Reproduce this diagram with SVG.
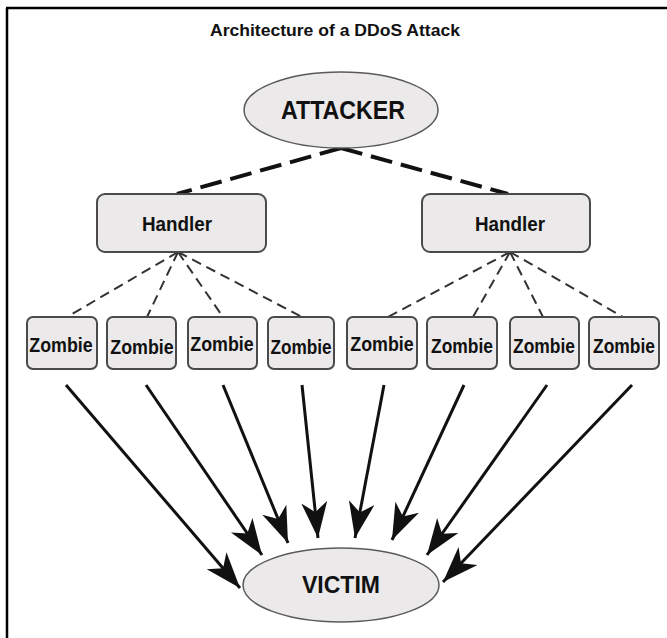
<svg xmlns="http://www.w3.org/2000/svg" width="667" height="638" viewBox="0 0 667 638">
<style>
.txt{font-family:"Liberation Sans Narrow","Liberation Sans",Arial,sans-serif;font-weight:bold;fill:#111;text-anchor:middle}
.zt{font-size:21px}
.box{fill:#ebe9e9;stroke:#4a4a4a;stroke-width:2}
.oval{fill:#ebe9e9;stroke:#5a5a5a;stroke-width:1.5}
.thick{stroke:#111;stroke-width:4;stroke-dasharray:22 9;fill:none}
.thin{stroke:#333;stroke-width:2;stroke-dasharray:10 6;fill:none}
.arr{stroke:#111;stroke-width:3;fill:none;marker-end:url(#ah)}
</style>
<defs>
<marker id="ah" markerUnits="userSpaceOnUse" markerWidth="40" markerHeight="28" refX="36" refY="13" orient="auto" viewBox="0 0 40 28">
<path d="M36,13 L0,0 L10,13 L0,26 Z" fill="#111"/>
</marker>
</defs>
<rect width="667" height="638" fill="#fff"/>
<g id="frame" stroke="#000" stroke-width="2.5">
<line x1="6" y1="8" x2="667" y2="8"/>
<line x1="7" y1="8" x2="7" y2="638"/>
</g>
<text class="txt" x="335" y="36" font-size="17" textLength="250" lengthAdjust="spacingAndGlyphs">Architecture of a DDoS Attack</text>
<g id="connectors">
<line class="thick" x1="341" y1="148" x2="177" y2="194"/>
<line class="thick" x1="341" y1="148" x2="508" y2="194"/>
<line class="thin" x1="178" y1="252" x2="67" y2="317"/>
<line class="thin" x1="178" y1="252" x2="147" y2="317"/>
<line class="thin" x1="178" y1="252" x2="223" y2="317"/>
<line class="thin" x1="178" y1="252" x2="302" y2="317"/>
<line class="thin" x1="510" y1="252" x2="388" y2="317"/>
<line class="thin" x1="510" y1="252" x2="473" y2="317"/>
<line class="thin" x1="510" y1="252" x2="543" y2="317"/>
<line class="thin" x1="510" y1="252" x2="623" y2="317"/>
<line class="arr" x1="66" y1="385" x2="240" y2="588"/>
<line class="arr" x1="146" y1="385" x2="262" y2="555"/>
<line class="arr" x1="223" y1="385" x2="288" y2="543"/>
<line class="arr" x1="302" y1="385" x2="318" y2="538"/>
<line class="arr" x1="384" y1="385" x2="355" y2="538"/>
<line class="arr" x1="464" y1="385" x2="392" y2="540"/>
<line class="arr" x1="547" y1="385" x2="427" y2="555"/>
<line class="arr" x1="632" y1="385" x2="443" y2="582"/>
</g>
<g id="attacker">
<ellipse class="oval" cx="341" cy="110" rx="97" ry="38"/>
<text class="txt" x="343" y="119" font-size="26" textLength="124" lengthAdjust="spacingAndGlyphs">ATTACKER</text>
</g>
<g id="handler1">
<rect class="box" x="97" y="194" width="169" height="58" rx="8"/>
<text class="txt" x="177" y="231" font-size="21" textLength="70" lengthAdjust="spacingAndGlyphs">Handler</text>
</g>
<g id="handler2">
<rect class="box" x="422" y="194" width="168" height="58" rx="8"/>
<text class="txt" x="510" y="231" font-size="21" textLength="70" lengthAdjust="spacingAndGlyphs">Handler</text>
</g>
<g id="zombie1"><rect class="box" x="27" y="317" width="70" height="52" rx="6"/><text class="txt zt" transform="translate(61 352) scale(0.85 1)">Zombie</text></g>
<g id="zombie2"><rect class="box" x="107" y="317" width="69" height="52" rx="6"/><text class="txt zt" transform="translate(142 354) scale(0.85 1)">Zombie</text></g>
<g id="zombie3"><rect class="box" x="188" y="317" width="69" height="52" rx="6"/><text class="txt zt" transform="translate(222 351) scale(0.85 1)">Zombie</text></g>
<g id="zombie4"><rect class="box" x="268" y="317" width="66" height="52" rx="6"/><text class="txt zt" transform="translate(301 354) scale(0.82 1)">Zombie</text></g>
<g id="zombie5"><rect class="box" x="347" y="317" width="70" height="52" rx="6"/><text class="txt zt" transform="translate(382 351) scale(0.85 1)">Zombie</text></g>
<g id="zombie6"><rect class="box" x="427" y="317" width="70" height="52" rx="6"/><text class="txt zt" transform="translate(462 353) scale(0.83 1)">Zombie</text></g>
<g id="zombie7"><rect class="box" x="510" y="317" width="69" height="52" rx="6"/><text class="txt zt" transform="translate(544 353) scale(0.83 1)">Zombie</text></g>
<g id="zombie8"><rect class="box" x="589" y="317" width="70" height="52" rx="6"/><text class="txt zt" transform="translate(624 353) scale(0.83 1)">Zombie</text></g>
<g id="victim">
<ellipse class="oval" cx="341" cy="585" rx="98" ry="37"/>
<text class="txt" x="341" y="593" font-size="23" textLength="78" lengthAdjust="spacingAndGlyphs">VICTIM</text>
</g>
</svg>
